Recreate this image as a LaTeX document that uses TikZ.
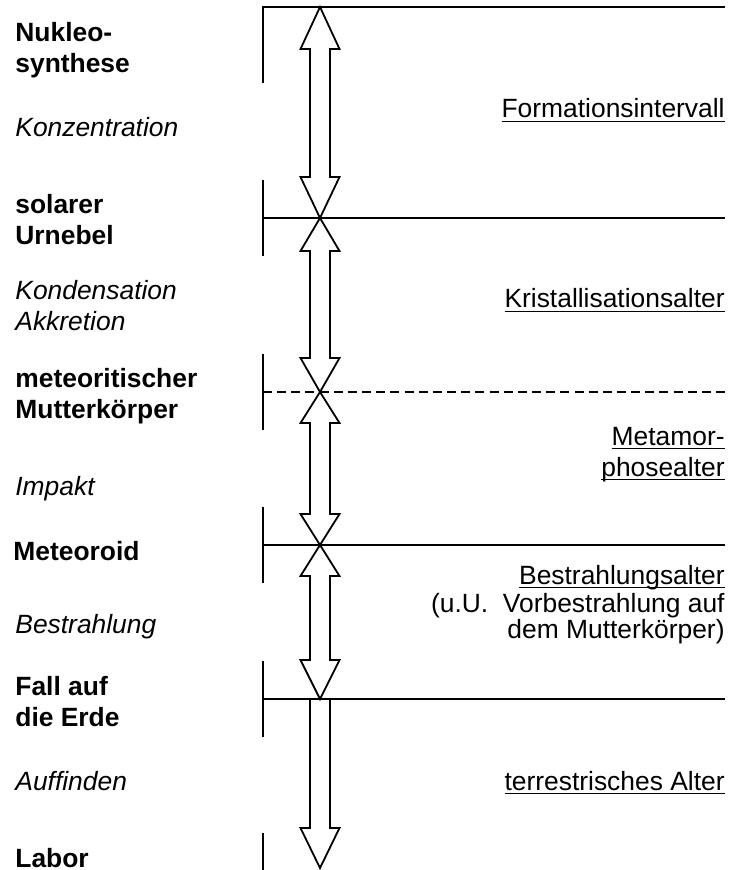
\documentclass[tikz,border=0pt]{standalone}
\usepackage{fontspec}
\setmainfont{Liberation Sans}
\usetikzlibrary{calc}

\newsavebox{\ulbox}
\newcommand{\underl}[1]{\sbox{\ulbox}{#1}\rlap{\vrule height -1.3pt depth 2.2pt width \wd\ulbox}\usebox{\ulbox}}
\newcommand{\lblsize}{\fontsize{13.2pt}{15.5pt}\selectfont}

% hollow arrow with two heads: top, bottom, head length top, head length bottom
\newcommand{\twoway}[4]{%
  \draw[fat] (#1) -- ($(#1)+(19.5,#3)$) -- ($(#1)+(10,#3)$) -- ($(#2)+(10,-#4)$)
    -- ($(#2)+(19.5,-#4)$) -- (#2) -- ($(#2)+(-19.5,-#4)$) -- ($(#2)+(-10,-#4)$)
    -- ($(#1)+(-10,#3)$) -- ($(#1)+(-19.5,#3)$) -- cycle;}

\tikzset{
  fat/.style={draw=black, line width=0.9pt, line join=miter},
  stage/.style={draw=black, line width=0.9pt},
  event/.style={font=\lblsize\bfseries},
  process/.style={font=\lblsize\itshape},
  age/.style={anchor=base east, align=right, font=\lblsize},
}

\begin{document}
\begin{tikzpicture}[x=0.5pt, y=-0.5pt]
\useasboundingbox (0,0) rectangle (736,870);

% points on the time axis
\coordinate (0) at (320,7);
\coordinate (1) at (320,218);
\coordinate (2) at (320,392);
\coordinate (3) at (320,545);
\coordinate (4) at (320,699);
\coordinate (5) at (320,868);

% stage lines and bars
\draw[stage] (263,83) -- (263,7) -- (725,7);
\foreach \y in {218,545,699}
    \draw[stage] (263,\y) -- (725,\y);
\draw[stage, dash pattern=on 4.5pt off 2.58pt] (263,392) -- (725,392);
\foreach \y in {218,392,545,699}
    \draw[stage] (263,\y-38) -- (263,\y+38);
\draw[stage] (263,833) -- (263,870);

% arrows
\twoway{0}{1}{42}{41}
\twoway{1}{2}{33}{34}
\twoway{2}{3}{31}{31}
\twoway{3}{4}{31}{39}
\draw[fat] ($(4)+(-10,0)$) -- ($(5)+(-10,-40)$) -- ($(5)+(-19.5,-40)$) -- (5)
    -- ($(5)+(19.5,-40)$) -- ($(5)+(10,-40)$) -- ($(4)+(10,0)$);

% base of a two-line node = baseline of its last line
\begin{scope}[every node/.style={anchor=base west, align=left, inner sep=0pt}]
    \node[event] (nuk) at (15,73) {Nukleo-\\synthese};
    \node[process] (konz) at (15,137) {Konzentration};
    \node[event] (sol) at (15,245) {solarer\\Urnebel};
    \node[process] (kond) at (15,331) {Kondensation\\Akkretion};
    \node[event] (mut) at (15,418) {meteoritischer\\Mutterkörper};
    \node[process] (imp) at (15,495) {Impakt};
    \node[event] (mete) at (13,560) {Meteoroid};
    \node[process] (bestr) at (15,633) {Bestrahlung};
    \node[event] (fall) at (15,726) {Fall auf\\die Erde};
    \node[process] (auff) at (15,790) {Auffinden};
    \node[event] (lab) at (15,867) {Labor};
\end{scope}

\begin{scope}[every node/.style={inner sep=0pt}]
    \node[age] (form) at (725,118) {\underl{Formationsintervall}};
    \node[age] (krist) at (725,308) {\underl{Kristallisationsalter}};
    \node[age] (meta) at (725,476) {\underl{Metamor-}\\\underl{phosealter}};
    \node[age] (bal) at (725,584) {\underl{Bestrahlungsalter}};
    \node[age, font=\fontsize{13.2pt}{13pt}\selectfont] (vorb) at (725,638)
        {(u.U.\ \ Vorbestrahlung auf\\dem Mutterkörper)};
    \node[age] (terr) at (725,790) {\underl{terrestrisches Alter}};
\end{scope}
\end{tikzpicture}
\end{document}
